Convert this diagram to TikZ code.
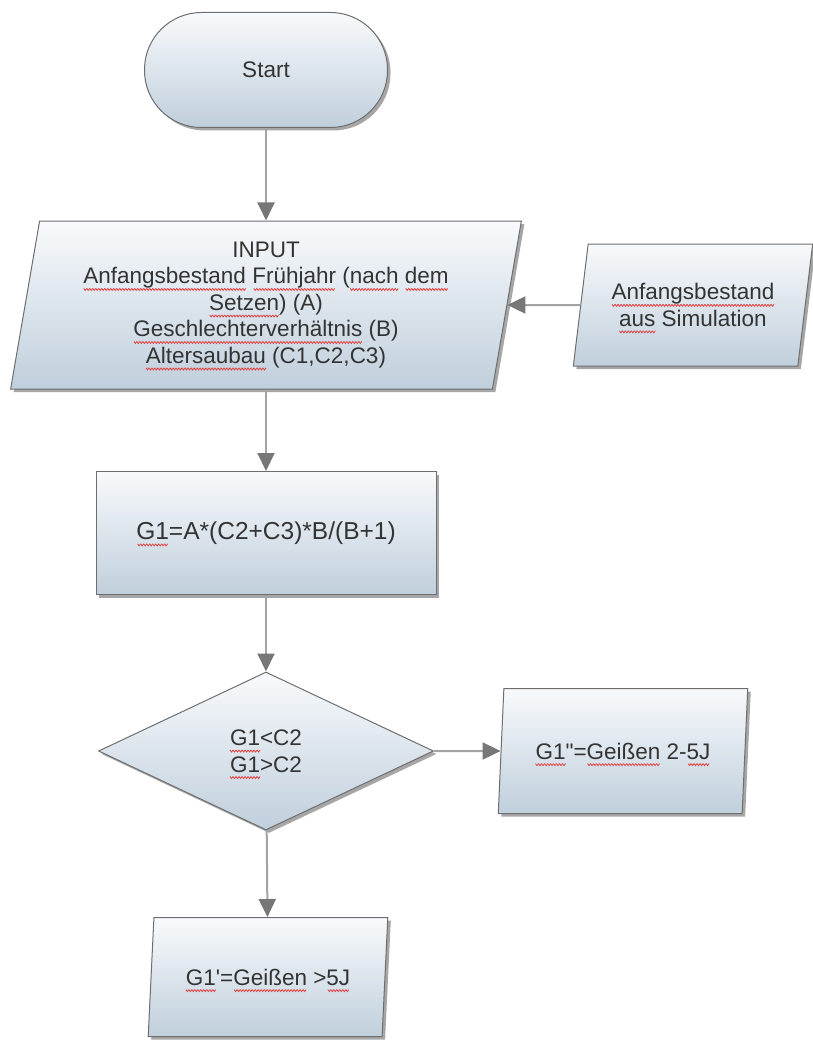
\documentclass[tikz,border=0pt]{standalone}
\usepackage{fontspec}
\setmainfont{Liberation Sans}
\usepackage{tikz}
\usetikzlibrary{shapes,shapes.geometric,arrows.meta,shadows}
\usepackage{xcolor}
\definecolor{rand}{HTML}{6E6E6E}
\definecolor{fuelloben}{HTML}{F8FAFC}
\definecolor{fuellunten}{HTML}{C0CFDC}
\definecolor{linie}{HTML}{A3A3A3}
\definecolor{spitze}{HTML}{777777}
\definecolor{schrift}{HTML}{333333}
% rote Wellenlinie unter einem Wort
\newcommand\welle{\hbox to3pt{\special{pdf:content q 0.88 0.25 0.25 RG 0.8 w 0 -4.5 m 1.5 -6.5 l 3 -4.5 l S Q}\hfil}}
\newcommand\fehler[1]{\setbox0\hbox{#1}\rlap{\hbox to\wd0{\cleaders\welle\hfil}}\box0\relax}

\begin{document}
\begin{tikzpicture}[x=1pt,y=-1pt,
  kasten/.style={draw=rand,line width=1pt,top color=fuelloben,bottom color=fuellunten,
    drop shadow={shadow xshift=3pt,shadow yshift=-3pt,fill=black,opacity=0.35},
    text=schrift,align=center,inner sep=0pt,
    font=\fontsize{22.5}{26.5}\selectfont},
  daten/.style={kasten,trapezium,trapezium stretches=true},
  pfeil/.style={draw=linie,line width=2pt,-{Triangle[length=18pt,width=17pt,color=spitze]}}]
\useasboundingbox (0,0) rectangle (813,1043);

% Knoten
\node[kasten,rounded corners=57pt,minimum width=243pt,minimum height=115pt] (start) at (266,70) {Start};
\node[daten,trapezium left angle=79.5,trapezium right angle=100.5,minimum width=511pt,minimum height=168pt] (input) at (266,305)
  {INPUT\\ \fehler{Anfangsbestand} \fehler{Frühjahr} (\fehler{nach} \fehler{dem}\\ \fehler{Setzen}) (A)\\ \fehler{Geschlechterverhältnis} (B)\\ \fehler{Altersaubau} (C1,C2,C3)};
\node[daten,trapezium left angle=75,trapezium right angle=105,minimum width=240pt,minimum height=122pt] (sim) at (693,305)
  {\fehler{Anfangsbestand}\\ \fehler{aus} Simulation};
\node[kasten,minimum width=340pt,minimum height=123pt,font=\fontsize{24.5}{28}\selectfont] (proc) at (266,533) {\fehler{G1}=A*(C2+C3)*B/(B+1)};
\node[kasten,diamond,minimum width=335pt,minimum height=158pt] (dec) at (266,751) {\fehler{G1}<C2\\ \fehler{G1}>C2};
\node[daten,trapezium left angle=76,trapezium right angle=104,minimum width=250pt,minimum height=125pt] (g2) at (623,751)
  {\fehler{G1}\textquotedbl=\fehler{Geißen} 2-\fehler{5J}};
\node[daten,trapezium left angle=76,trapezium right angle=104,minimum width=240pt,minimum height=119pt] (g1) at (268,977)
  {\fehler{G1}\textquotesingle=\fehler{Geißen} >\fehler{5J}};

% Pfeile
\draw[pfeil] (start) -- (input);
\draw[pfeil] (sim) -- (input);
\draw[pfeil] (input) -- (proc);
\draw[pfeil] (proc) -- (dec);
\draw[pfeil] (dec) -- (g2);
\draw[pfeil] (dec) -- (g1);
\end{tikzpicture}
\end{document}
